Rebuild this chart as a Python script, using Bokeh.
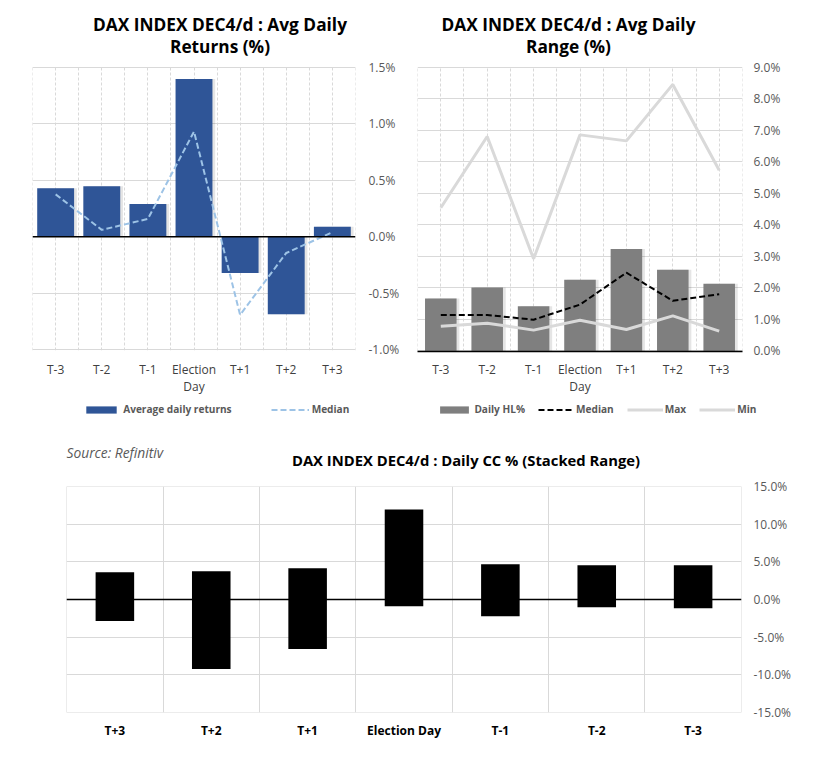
from bokeh.plotting import figure
from bokeh.models import (FixedTicker, PrintfTickFormatter, Span, Label, Legend,
                          LegendItem, Range1d, ColumnDataSource)
from bokeh.layouts import column, row
from bokeh.embed import file_html
from bokeh.resources import INLINE
from bokeh.transform import dodge

# ---------------- data ----------------
days = ["T-3", "T-2", "T-1", "Election Day", "T+1", "T+2", "T+3"]
avg_returns = [0.43, 0.447, 0.29, 1.395, -0.32, -0.684, 0.088]
median_returns = [0.375, 0.061, 0.158, 0.93, -0.69, -0.143, 0.04]

daily_hl = [1.66, 2.01, 1.42, 2.26, 3.23, 2.57, 2.13]
median_hl = [1.14, 1.14, 0.99, 1.47, 2.48, 1.59, 1.80]
max_hl = [4.54, 6.80, 2.92, 6.85, 6.66, 8.45, 5.73]
min_hl = [0.78, 0.88, 0.66, 0.97, 0.68, 1.11, 0.63]

cc_days = ["T+3", "T+2", "T+1", "Election Day", "T-1", "T-2", "T-3"]
cc_up = [3.62, 3.76, 4.16, 12.0, 4.69, 4.56, 4.56]
cc_down = [-2.88, -9.26, -6.60, -0.89, -2.22, -1.02, -1.15]

ret_ticks = [-1.0, -0.5, 0.0, 0.5, 1.0, 1.5]
range_ticks = [0, 1, 2, 3, 4, 5, 6, 7, 8, 9]
cc_ticks = [-15, -10, -5, 0, 5, 10, 15]

FONT = "Open Sans"
GRID = "#D9D9D9"
TICK_GRAY = "#595959"
BLUE = "#2F5597"
LIGHT_BLUE = "#9DC3E6"
BAR_GRAY = "#7F7F7F"
EPS = 0.002


def strip(width, height, xr=(0, 1)):
    s = figure(width=width, height=height, x_range=Range1d(*xr), y_range=Range1d(0, 1),
               x_axis_location=None, y_axis_location=None, output_backend="svg",
               toolbar_location=None, min_border=0, frame_align=False)
    s.outline_line_color = None
    s.background_fill_color = "white"
    s.border_fill_color = "white"
    s.title.visible = False
    s.grid.visible = False
    return s


def base_fig(width, height, yticks, bl, br, bt, bb, standoff_y):
    span_y = (yticks[-1] - yticks[0]) * EPS
    p = figure(width=width, height=height, x_range=Range1d(-0.5 - EPS, 6.5 + EPS),
               y_range=Range1d(yticks[0] - span_y, yticks[-1] + span_y),
               output_backend="svg", toolbar_location=None,
               y_axis_location="right", frame_align=False,
               min_border_left=bl, min_border_right=br,
               min_border_top=bt, min_border_bottom=bb)
    p.outline_line_color = None
    p.background_fill_color = "white"
    p.border_fill_color = "white"
    p.title.visible = False
    for ax in (p.xaxis[0], p.yaxis[0]):
        ax.major_tick_line_color = None
        ax.minor_tick_line_color = None
        ax.major_tick_out = 0
        ax.major_tick_in = 0
        ax.major_label_text_font = FONT
        ax.major_label_text_font_size = "12px"
    p.yaxis.axis_line_color = None
    p.yaxis.major_label_text_color = TICK_GRAY
    p.yaxis.major_label_standoff = standoff_y
    p.yaxis.formatter = PrintfTickFormatter(format="%.1f%%")
    p.yaxis.ticker = FixedTicker(ticks=yticks)
    p.ygrid.ticker = FixedTicker(ticks=yticks)
    p.ygrid.grid_line_color = GRID
    p.xgrid.grid_line_color = GRID
    p.xaxis.ticker = FixedTicker(ticks=list(range(7)))
    p.xaxis.major_label_text_line_height = 1.05
    return p


def add_text(p, text, x, y, size, style="bold", color="#000000", align="center"):
    p.add_layout(Label(x=x, y=y, x_units="screen", y_units="screen",
                       text=text, text_font=FONT, text_font_size=size,
                       text_font_style=style, text_color=color,
                       text_align=align, text_baseline="alphabetic"))


def add_legend(p, items, x, y, spacing, gw, gh, standoff):
    leg = Legend(items=[LegendItem(label=l, renderers=[r]) for l, r in items],
                 location=(x, y), orientation="horizontal",
                 padding=0, margin=0, spacing=spacing,
                 glyph_width=gw, glyph_height=gh, label_height=14,
                 label_standoff=standoff,
                 border_line_color=None, background_fill_alpha=0,
                 label_text_font=FONT, label_text_font_size="10.1px",
                 label_text_font_style="bold", label_text_color=TICK_GRAY)
    p.add_layout(leg, "center")


idx = list(range(len(days)))
half_ticks = [i * 0.5 - 0.5 for i in range(15)]
bound_ticks = [i - 0.5 for i in range(8)]
src1 = ColumnDataSource(dict(x=idx, avg=avg_returns, med=median_returns))
src2 = ColumnDataSource(dict(x=idx, hl=daily_hl, med=median_hl, mx=max_hl, mn=min_hl))
src3 = ColumnDataSource(dict(x=idx, up=cc_up, down=cc_down))

# ---------------- header strip: titles of the two top charts ----------------
head = strip(818, 58)
add_text(head, "DAX INDEX DEC4/d : Avg Daily", 219.5, 34, "17.3px")
add_text(head, "Returns (%)", 219.5, 11.7, "17.3px")
add_text(head, "DAX INDEX DEC4/d : Avg Daily", 568, 34, "17.3px")
add_text(head, "Range (%)", 568, 11.7, "17.3px")

# ---------------- chart 1: avg daily returns ----------------
p1 = base_fig(410, 340, ret_ticks, 32, 55, 8, 47, 13)
p1.xaxis.major_label_overrides = {i: d.replace(" ", "\n") for i, d in enumerate(days)}
p1.xaxis.axis_line_color = None
p1.xaxis.major_label_text_color = "#404040"
p1.xaxis.major_label_standoff = 10
p1.xgrid.ticker = FixedTicker(ticks=half_ticks)
p1.xgrid.grid_line_dash = "3 2"

p1.vbar(x=dodge("x", 0.06), top="avg", bottom=0, width=0.8, source=src1,
        fill_color="#000000", fill_alpha=0.10, line_color=None)
p1.vbar(x="x", top="avg", bottom=0, width=0.8, source=src1,
        fill_color=BLUE, line_color=None)
p1.add_layout(Span(location=0, dimension="width", line_color="black", line_width=1.5))
p1.line(x="x", y="med", source=src1, line_color=LIGHT_BLUE, line_width=2, line_dash="6 3")

# ---------------- chart 2: avg daily range ----------------
p2 = base_fig(400, 340, range_ticks, 7, 68, 8, 44, 11)
p2.xaxis.major_label_overrides = {i: d.replace(" ", "\n") for i, d in enumerate(days)}
p2.xaxis.axis_line_color = "black"
p2.xaxis.axis_line_width = 1.5
p2.xaxis.major_label_text_color = "#404040"
p2.xaxis.major_label_standoff = 9
p2.xgrid.ticker = FixedTicker(ticks=half_ticks)
p2.xgrid.grid_line_dash = "3 2"

p2.vbar(x=dodge("x", 0.06), top="hl", bottom=0, width=0.68, source=src2,
        fill_color="#000000", fill_alpha=0.10, line_color=None)
p2.vbar(x="x", top="hl", bottom=0, width=0.68, source=src2,
        fill_color=BAR_GRAY, line_color=None)
p2.line(x="x", y="mx", source=src2, line_color=GRID, line_width=3)
p2.line(x="x", y="mn", source=src2, line_color=GRID, line_width=3)
p2.line(x="x", y="med", source=src2, line_color="black", line_width=2, line_dash="6 3")

# ---------------- middle strip: legends + bottom chart title ----------------
# legend proxies share the chart sources; the strip's x-range keeps them off-canvas
mid = strip(818, 78, xr=(-100, -99))
lg_avg = mid.vbar(x="x", top="avg", width=0.8, source=src1, fill_color=BLUE, line_color=None)
lg_med1 = mid.line(x="x", y="med", source=src1, line_color=LIGHT_BLUE, line_width=2,
                   line_dash="6 3")
lg_hl = mid.vbar(x="x", top="hl", width=0.68, source=src2, fill_color=BAR_GRAY, line_color=None)
lg_med2 = mid.line(x="x", y="med", source=src2, line_color="black", line_width=2,
                   line_dash="6 3")
lg_max = mid.line(x="x", y="mx", source=src2, line_color=GRID, line_width=3)
lg_min = mid.line(x="x", y="mn", source=src2, line_color=GRID, line_width=3)
add_legend(mid, [("Average daily returns", lg_avg), ("Median", lg_med1)],
           82.2, 60, 39, 38, 9, 3)
add_legend(mid, [("Daily HL%", lg_hl), ("Median", lg_med2), ("Max", lg_max), ("Min", lg_min)],
           436.4, 60, 13, 36, 9, 2)
add_text(mid, "DAX INDEX DEC4/d : Daily CC % (Stacked Range)", 465.5, 16.7, "14.8px")
add_text(mid, "Source: Refinitiv", 66, 24, "13.8px", style="italic",
         color=TICK_GRAY, align="left")

# ---------------- chart 3: daily CC stacked range ----------------
p3 = base_fig(802, 284, cc_ticks, 66, 61, 10, 48, 12)
p3.xaxis.major_label_overrides = {i: d for i, d in enumerate(cc_days)}
p3.xaxis.axis_line_color = None
p3.xaxis.major_label_text_color = "#000000"
p3.xaxis.major_label_text_font_style = "bold"
p3.xaxis.major_label_standoff = 9
p3.xgrid.ticker = FixedTicker(ticks=bound_ticks)

p3.vbar(x="x", top="up", bottom=0, width=0.4, source=src3,
        fill_color="black", line_color=None)
p3.vbar(x="x", top=0, bottom="down", width=0.4, source=src3,
        fill_color="black", line_color=None)
p3.add_layout(Span(location=0, dimension="width", line_color="black", line_width=1.5))

layout = column(head, row(p1, p2), mid, p3)
open("out.html", "w").write(file_html(layout, INLINE))
